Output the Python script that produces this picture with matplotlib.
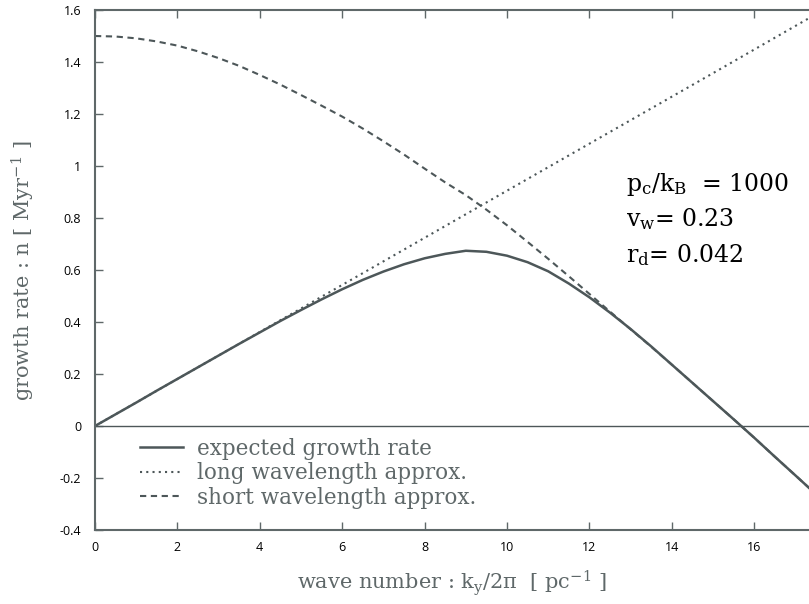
import matplotlib
matplotlib.use("Agg")
import matplotlib.pyplot as plt

# values
k_expected = [0, 0.5, 1, 1.5, 2, 2.5, 3, 3.5, 4, 4.5, 5, 5.5, 6, 6.5, 7, 7.5, 8, 8.5,
              9, 9.5, 10, 10.5, 11, 11.5, 12, 12.5, 13, 13.5, 14, 14.5, 15, 15.5,
              16, 16.5, 17, 17.4]
n_expected = [0.0, 0.045, 0.090, 0.136, 0.181, 0.226, 0.271, 0.316, 0.360, 0.404,
              0.446, 0.487, 0.526, 0.562, 0.594, 0.622, 0.645, 0.662, 0.674, 0.670,
              0.655, 0.630, 0.595, 0.548, 0.495, 0.436, 0.373, 0.306, 0.236, 0.166,
              0.096, 0.026, -0.045, -0.118, -0.19, -0.248]

k_long = [0, 5, 10, 15, 17.4]
n_long = [0.0, 0.452, 0.905, 1.357, 1.575]

k_short = [0, 0.5, 1, 1.5, 2, 2.5, 3, 3.5, 4, 4.5, 5, 5.5, 6, 6.5, 7, 7.5, 8, 8.5,
           9, 9.5, 10, 10.5, 11, 11.5, 12, 12.5, 13, 13.5, 14, 14.5, 15, 15.5,
           16, 16.5, 17, 17.4]
n_short = [1.500, 1.498, 1.491, 1.479, 1.463, 1.441, 1.415, 1.385, 1.350, 1.313,
           1.273, 1.232, 1.190, 1.144, 1.095, 1.044, 0.990, 0.937, 0.888, 0.832,
           0.772, 0.708, 0.643, 0.576, 0.508, 0.440, 0.372, 0.305, 0.236, 0.166,
           0.096, 0.026, -0.045, -0.118, -0.19, -0.248]

x_ticks = [0, 2, 4, 6, 8, 10, 12, 14, 16]
y_ticks = [-0.4, -0.2, 0, 0.2, 0.4, 0.6, 0.8, 1, 1.2, 1.4, 1.6]

line_color = "#4d5759"
label_color = "#5f6869"
spine_color = "#5f6869"

plt.rcParams["mathtext.fontset"] = "dejavuserif"

fig = plt.figure(figsize=(8.09, 6.04), dpi=100)
ax = fig.add_axes([95 / 809, 74 / 604, 714 / 809, 520 / 604])

ax.plot(k_expected, n_expected, color=line_color, lw=1.8, label="expected growth rate")
ax.plot(k_long, n_long, color=line_color, lw=1.5, ls=(0, (1, 2.0)), label="long wavelength approx.")
ax.plot(k_short, n_short, color=line_color, lw=1.5, ls=(0, (3, 2.2)), label="short wavelength approx.")
ax.axhline(0, color=line_color, lw=1.0)

ax.set_xlim(0, 17.33)
ax.set_ylim(-0.4, 1.6)
ax.set_xticks(x_ticks)
ax.set_yticks(y_ticks)
ax.set_yticklabels([f"{v:g}" for v in y_ticks])

for side in ["left", "bottom", "top"]:
    ax.spines[side].set_color(spine_color)
    ax.spines[side].set_linewidth(1.5)
ax.spines["right"].set_visible(False)

ax.tick_params(direction="in", length=6, width=1, colors=spine_color,
               top=True, right=False, labelsize=9)
for lab in ax.get_xticklabels() + ax.get_yticklabels():
    lab.set_color("black")
    lab.set_family("Open Sans")
ax.tick_params(axis="x", pad=8)
ax.tick_params(axis="y", pad=10)

ax.set_xlabel(r"wave number : k$_\mathrm{y}$/2π  [ pc$^{-1}$ ]",
              family="DejaVu Serif", fontsize=15, color=label_color, labelpad=10)
ax.set_ylabel(r"growth rate : n [ Myr$^{-1}$ ]",
              family="DejaVu Serif", fontsize=15, color=label_color, labelpad=16)

ann = dict(family="DejaVu Serif", fontsize=17, color="black", transform=ax.transData)
ax.text(12.9, 0.905, r"p$_\mathrm{c}$/k$_\mathrm{B}$  = 1000", **ann)
ax.text(12.9, 0.77, r"v$_\mathrm{w}$= 0.23", **ann)
ax.text(12.9, 0.63, r"r$_\mathrm{d}$= 0.042", **ann)

leg = ax.legend(loc="upper left", bbox_to_anchor=(0.036, 0.215), frameon=False,
                handlelength=2.0, handletextpad=0.65, labelspacing=0.12,
                prop={"family": "DejaVu Serif", "size": 15.5})
for t in leg.get_texts():
    t.set_color(label_color)

fig.savefig("out.png", dpi=100)
